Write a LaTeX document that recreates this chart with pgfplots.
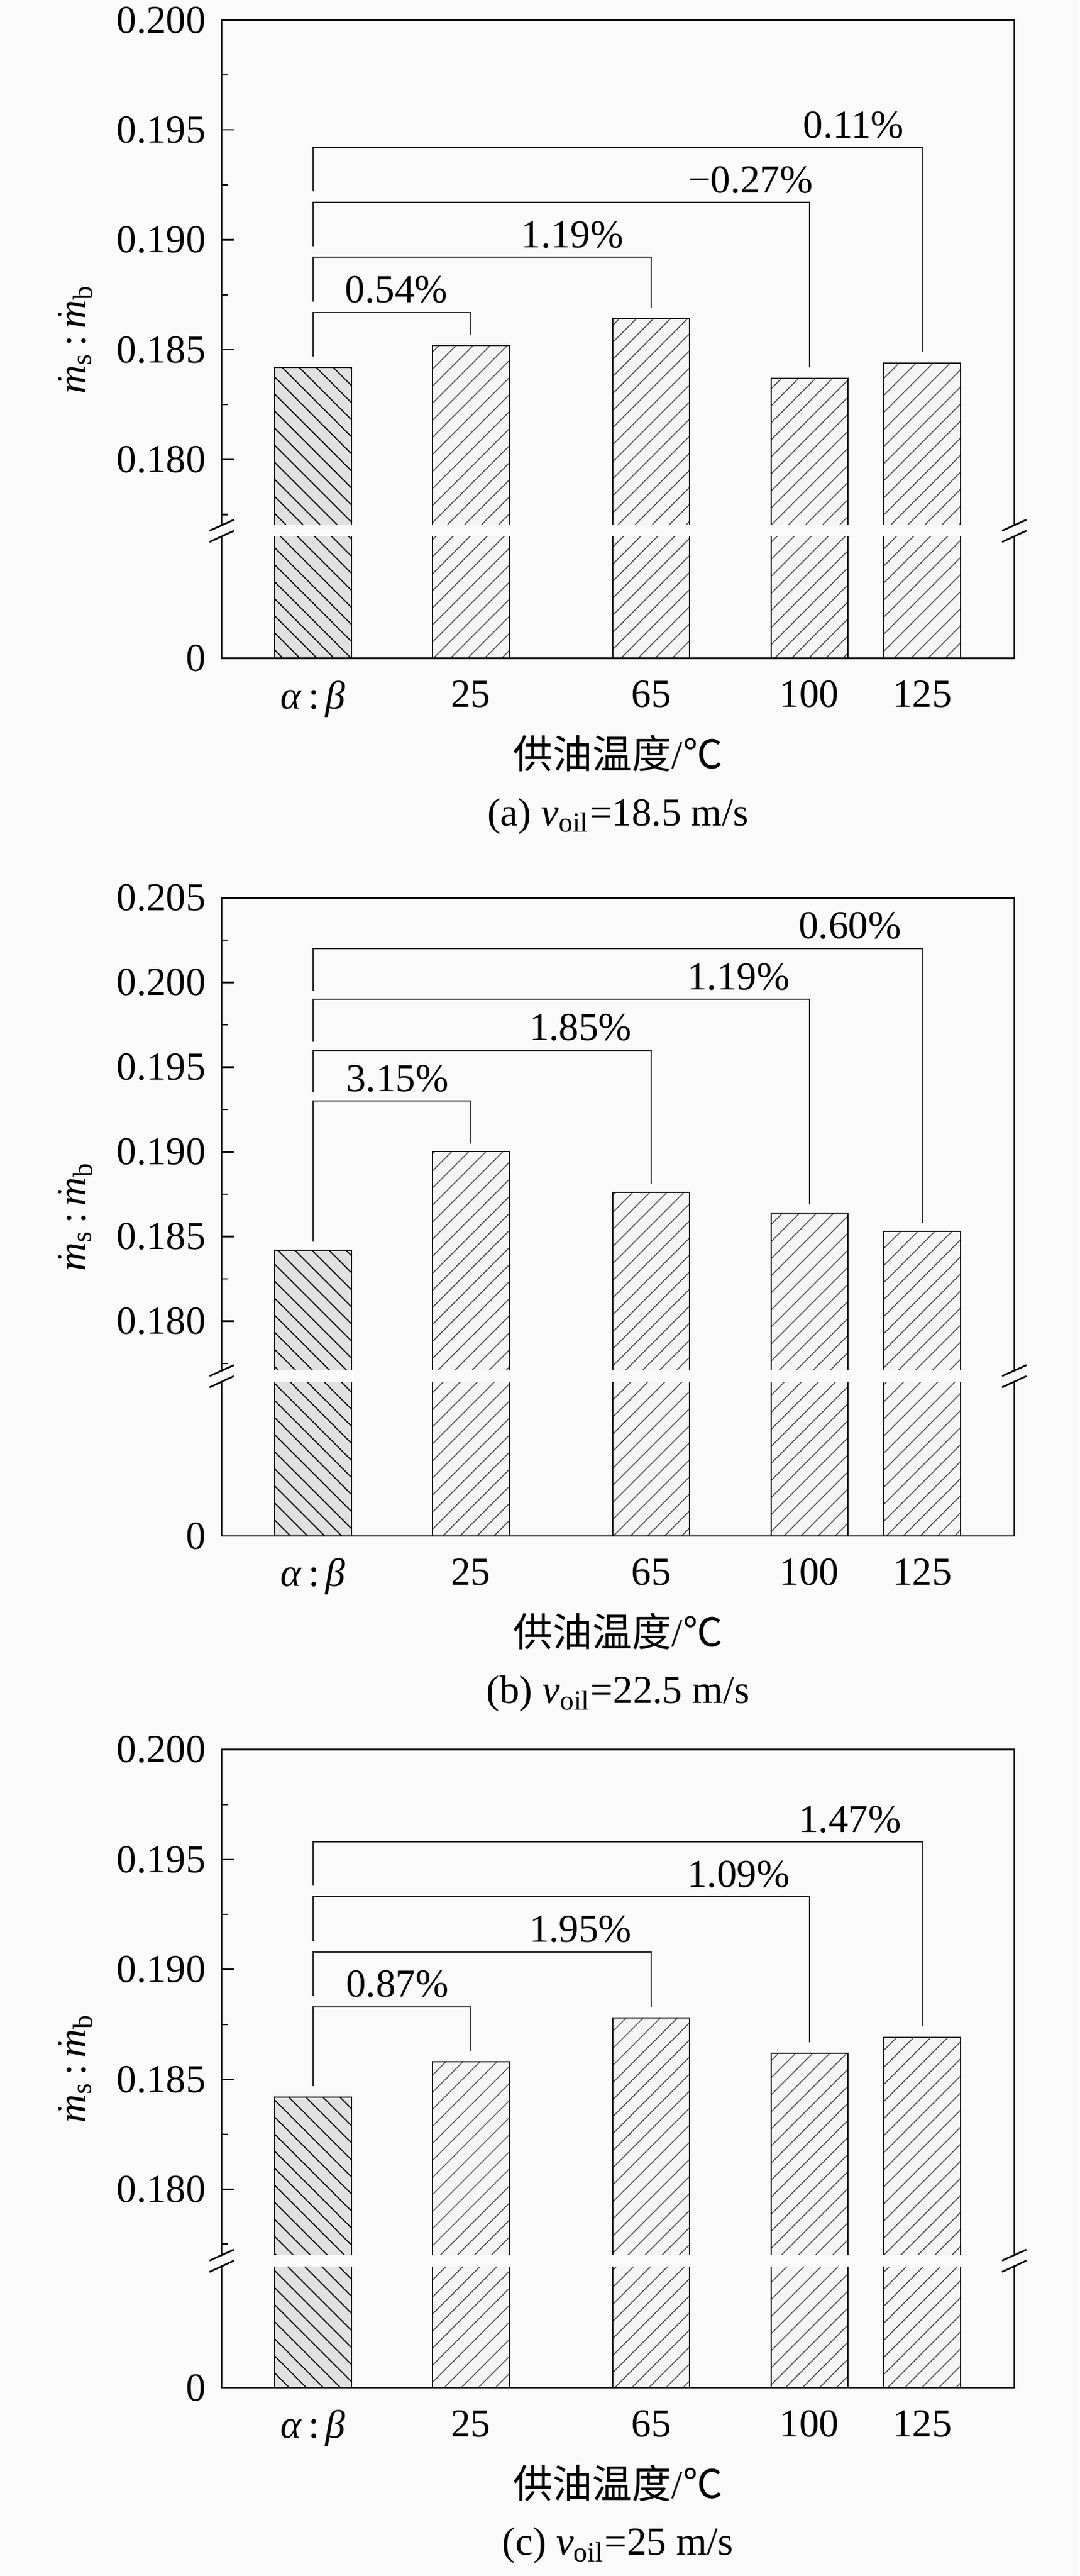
\documentclass[border=0pt]{standalone}
\usepackage{fontspec}
\setmainfont{Liberation Serif}
\newfontfamily\cjk{Noto Sans CJK SC}
\usepackage{pgfplots}
\pgfplotsset{compat=1.18}
\usetikzlibrary{patterns.meta}
\definecolor{bg}{RGB}{250,250,250}
\definecolor{barA}{RGB}{225,225,225}
\definecolor{barB}{RGB}{245,245,245}
\pgfplotsset{
  panel/.style={
    scale only axis, width=260.2pt, height=209.5pt,
    anchor=south west,
    xmin=-30.2, xmax=145.4,
    xtick={-10,25,65,100,125},
    xticklabels={{\textit{α}\,:\,\textit{β}},25,65,100,125},
    xtick style={draw=none},
    xticklabel style={yshift=-2.9pt},
    ytick pos=left, tick align=inside,
    major tick length=4pt, minor tick length=2pt,
    axis line style={line width=0.46pt},
    every tick/.append style={black, line width=0.46pt},
    scaled y ticks=false,
    yticklabel style={xshift=-0.7pt,/pgf/number format/.cd, fixed, fixed zerofill, precision=3, assume math mode=true},
    extra y tick labels={0},
    extra y tick style={major tick length=0pt},
    clip mode=individual,
    xlabel={{\cjk 供油温度}/{\cjk ℃}},
    xlabel style={at={(axis description cs:0.5,0)}, anchor=center, yshift=-31.3pt},
    ylabel={$\dot{\mbox{\itshape m}}$\textsubscript{s}\,:\,$\dot{\mbox{\itshape m}}$\textsubscript{b}},
    ylabel style={at={(axis description cs:-0.1845,0.5)}, anchor=center},
  },
  barA/.style={ybar, bar width=17, bar shift=0pt, draw=black, line width=0.4pt, fill=barA,
    postaction={pattern={Lines[angle=-45,distance=3.96pt,line width=0.35pt]}, pattern color=black}},
  barB/.style={ybar, bar width=17, bar shift=0pt, draw=black, line width=0.4pt, fill=barB,
    postaction={pattern={Lines[angle=45,distance=3.96pt,line width=0.28pt]}, pattern color=black!75}},
  brk/.style={black!85, line width=0.38pt, sharp plot, mark=none},
}
\newcommand\drawbreak{%
  \fill[bg] ([xshift=-1.5pt,yshift=-1.84pt]axis cs:-30.2,0.17676) rectangle ([xshift=1.5pt,yshift=1.84pt]axis cs:145.4,0.17676);
  \fill[bg] ([xshift=-4pt]axis cs:-30.2,0.17676) -- ++(8pt,3.6pt) -- ++(0pt,-3.6pt) -- ++(-8pt,-3.7pt) -- cycle;
  \fill[bg] ([xshift=-4pt]axis cs:145.4,0.17676) -- ++(8pt,3.6pt) -- ++(0pt,-3.6pt) -- ++(-8pt,-3.7pt) -- cycle;
  \draw[line width=0.55pt] ([xshift=-4pt]axis cs:-30.2,0.17676) -- ++(8pt,3.6pt);
  \draw[line width=0.55pt] ([xshift=-4pt,yshift=-3.7pt]axis cs:-30.2,0.17676) -- ++(8pt,3.7pt);
  \draw[line width=0.55pt] ([xshift=-4pt]axis cs:145.4,0.17676) -- ++(8pt,3.6pt);
  \draw[line width=0.55pt] ([xshift=-4pt,yshift=-3.7pt]axis cs:145.4,0.17676) -- ++(8pt,3.7pt);
}
\begin{document}
\fontsize{13}{15.6}\selectfont
\begin{tikzpicture}
\useasboundingbox (0,0) rectangle (354.4pt,845.6pt);
\fill[bg] (0,0) rectangle (354.4pt,845.6pt);

% ---------------- (a)
\begin{axis}[panel, at={(72.8pt,629.5pt)},
  ymin=0.170954, ymax=0.200,
  ytick={0.180,0.185,0.190,0.195,0.200},
  minor ytick={0.1775,0.1825,0.1875,0.1925,0.1975},
  extra y ticks={0.170954}]
\addplot[barA] coordinates {(-10,0.1842)};
\addplot[barB] coordinates {(25,0.1852) (65,0.1864) (100,0.1837) (125,0.1844)};
\drawbreak
\addplot[brk] coordinates {(-10,0.1847) (-10,0.1867) (25,0.1867) (25,0.1857)};
\addplot[brk] coordinates {(-10,0.1872) (-10,0.1892) (65,0.1892) (65,0.1869)};
\addplot[brk] coordinates {(-10,0.1897) (-10,0.1917) (100,0.1917) (100,0.1842)};
\addplot[brk] coordinates {(-10,0.1922) (-10,0.1942) (125,0.1942) (125,0.1849)};
\node[anchor=base, inner sep=0pt, yshift=3.2pt] at (axis cs:8.5,0.1867) {0.54\%};
\node[anchor=base, inner sep=0pt, yshift=3.2pt] at (axis cs:47.5,0.1892) {1.19\%};
\node[anchor=base, inner sep=0pt, yshift=3.2pt] at (axis cs:87,0.1917) {−0.27\%};
\node[anchor=base, inner sep=0pt, yshift=3.2pt] at (axis cs:109.8,0.1942) {0.11\%};
\node[anchor=center] at ([yshift=-51.8pt]axis description cs:0.5,0) {(a) \textit{v}\textsubscript{oil}=18.5 m/s};
\end{axis}

% ---------------- (b)
\begin{axis}[panel, at={(72.8pt,341.4pt)},
  ymin=0.16732, ymax=0.205,
  ytick={0.180,0.185,0.190,0.195,0.200,0.205},
  minor ytick={0.1775,0.1825,0.1875,0.1925,0.1975,0.2025},
  extra y ticks={0.16732}]
\addplot[barA] coordinates {(-10,0.1842)};
\addplot[barB] coordinates {(25,0.1900) (65,0.1876) (100,0.1864) (125,0.1853)};
\drawbreak
\addplot[brk] coordinates {(-10,0.1847) (-10,0.1930) (25,0.1930) (25,0.1905)};
\addplot[brk] coordinates {(-10,0.1935) (-10,0.1960) (65,0.1960) (65,0.1881)};
\addplot[brk] coordinates {(-10,0.1965) (-10,0.1990) (100,0.1990) (100,0.1869)};
\addplot[brk] coordinates {(-10,0.1995) (-10,0.2020) (125,0.2020) (125,0.1858)};
\node[anchor=base, inner sep=0pt, yshift=3.2pt] at (axis cs:8.7,0.1930) {3.15\%};
\node[anchor=base, inner sep=0pt, yshift=3.2pt] at (axis cs:49.3,0.1960) {1.85\%};
\node[anchor=base, inner sep=0pt, yshift=3.2pt] at (axis cs:84.3,0.1990) {1.19\%};
\node[anchor=base, inner sep=0pt, yshift=3.2pt] at (axis cs:109,0.2020) {0.60\%};
\node[anchor=center] at ([yshift=-51.8pt]axis description cs:0.5,0) {(b) \textit{v}\textsubscript{oil}=22.5 m/s};
\end{axis}

% ---------------- (c)
\begin{axis}[panel, at={(72.8pt,61.8pt)},
  ymin=0.17098, ymax=0.200,
  ytick={0.180,0.185,0.190,0.195,0.200},
  minor ytick={0.1775,0.1825,0.1875,0.1925,0.1975},
  extra y ticks={0.17098}]
\addplot[barA] coordinates {(-10,0.1842)};
\addplot[barB] coordinates {(25,0.1858) (65,0.1878) (100,0.1862) (125,0.1869)};
\drawbreak
\addplot[brk] coordinates {(-10,0.1847) (-10,0.1883) (25,0.1883) (25,0.1863)};
\addplot[brk] coordinates {(-10,0.1888) (-10,0.1908) (65,0.1908) (65,0.1883)};
\addplot[brk] coordinates {(-10,0.1913) (-10,0.1933) (100,0.1933) (100,0.1867)};
\addplot[brk] coordinates {(-10,0.1938) (-10,0.1958) (125,0.1958) (125,0.1874)};
\node[anchor=base, inner sep=0pt, yshift=3.2pt] at (axis cs:8.7,0.1883) {0.87\%};
\node[anchor=base, inner sep=0pt, yshift=3.2pt] at (axis cs:49.3,0.1908) {1.95\%};
\node[anchor=base, inner sep=0pt, yshift=3.2pt] at (axis cs:84.3,0.1933) {1.09\%};
\node[anchor=base, inner sep=0pt, yshift=3.2pt] at (axis cs:109,0.1958) {1.47\%};
\node[anchor=center] at ([yshift=-51.8pt]axis description cs:0.5,0) {(c) \textit{v}\textsubscript{oil}=25 m/s};
\end{axis}
\end{tikzpicture}
\end{document}
